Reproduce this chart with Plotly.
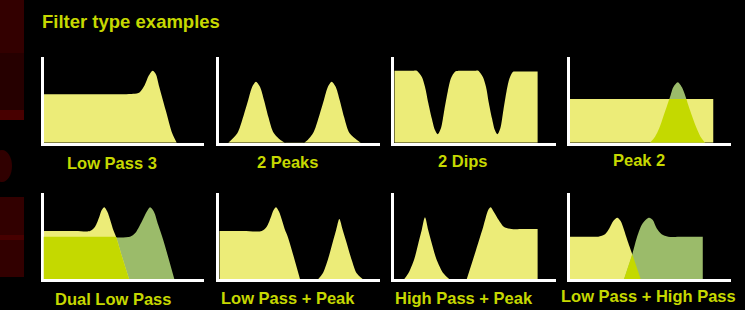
import plotly.graph_objects as go

W, H = 745, 310

# ---------------- data (x: 0-100 across each panel, y: 0-100 up the axis) ----------------
title_text = "Filter type examples"
labels = ["Low Pass 3", "2 Peaks", "2 Dips", "Peak 2",
          "Dual Low Pass", "Low Pass + Peak", "High Pass + Peak", "Low Pass + High Pass"]

lp3_x = [0, 25, 50, 56, 60, 63, 65.5, 68, 70, 72.1, 76.1, 80.2, 83]
lp3_y = [56.5, 56.5, 56.5, 57, 59, 67, 78, 84, 80, 65.3, 38.2, 11, 0]

peaks2_x = [5.6, 11.2, 14.9, 18, 20.5, 22.8, 25.3, 27.8, 30.5, 34, 40.9,
            52.7, 58.3, 62, 65.1, 67.6, 69.9, 72.4, 74.9, 77.6, 81.1, 88]
peaks2_y = [0, 11, 30.3, 49.8, 65.3, 71.2, 65.3, 49.8, 30.3, 11, 0,
            0, 11, 30.3, 49.8, 65.3, 71.2, 65.3, 49.8, 30.3, 11, 0]

dips2_x = [0, 4, 8, 12, 13.9, 17, 19, 21.1, 23.2, 25.2, 26.9, 28.9, 31, 33.1, 35.1, 37.6, 39.7,
           43, 47, 50.5, 52, 54.8, 56.8, 58.6, 60.5, 62.3, 63.9, 65.7, 67.6, 69.5, 71.4, 73.6,
           75.8, 79, 83, 86, 88.8]
dips2_y = [84, 84, 84, 84, 84, 77, 65.3, 46, 28.5, 14.8, 9.8, 16.8, 38.2, 59.5, 75.1, 82.8, 84,
           84, 84, 84, 84, 77, 65.3, 46, 28.5, 14.8, 9.8, 16.8, 38.2, 59.5, 75.1, 82.8,
           83, 83, 83, 83, 83]

peak2_rect_x = [0, 89]
peak2_rect_y = [51, 51]
peak2_bell_x = [49.8, 52.9, 55.5, 58, 60.5, 62.6, 64.2, 67, 69.6, 71.5, 73.5, 76, 78.7, 81.1, 83.9]
peak2_bell_y = [0, 7, 16.8, 30.3, 44, 55.7, 64.6, 70.5, 64.6, 55.7, 44, 30.3, 16.8, 7, 0]

dual_a_x = [0, 20, 29, 32.1, 34.8, 36.3, 37.9, 39.8, 41.9, 43.5, 45.2, 49.2, 53.3]
dual_a_y = [56, 56, 56, 61, 72.7, 80.5, 83.7, 78.5, 66.9, 57.2, 49.4, 24.5, 0]
dual_b_x = [0, 30, 53.9, 57, 61.2, 64.3, 66.4, 68.8, 71.5, 74.6, 81.5]
dual_b_y = [49.4, 49.4, 49.4, 53.3, 66.9, 78.5, 83.7, 78.5, 63, 45.5, 0]

lpp_lp_x = [0, 15, 26.4, 29.5, 32.2, 33.8, 35.3, 37.2, 39.3, 40.9, 42.6, 50.2]
lpp_lp_y = [56, 56, 56, 61, 72.7, 80.5, 83.7, 78.5, 66.9, 57.2, 49.4, 0]
lpp_pk_x = [61.6, 64.4, 67.5, 70.4, 72.7, 74.7, 76.8, 79.3, 82.4, 85.5, 89.2]
lpp_pk_y = [0, 6.6, 22.2, 41.7, 57.2, 70, 57.2, 41.7, 22.2, 6.6, 0]

hpp_pk_x = [6.2, 8.7, 12.2, 14.9, 17, 19, 21, 23.2, 26.3, 30.4, 34]
hpp_pk_y = [0, 6.6, 22.2, 41.7, 57.2, 72, 57.2, 41.7, 22.2, 6.6, 0]
hpp_hp_x = [44.9, 50, 55.1, 58.2, 59.7, 61.6, 64.7, 67.8, 72.7, 80, 88.8]
hpp_hp_y = [0, 30, 61, 80.5, 83.7, 78.5, 68.8, 61, 58.3, 58.3, 58.3]

lphp_lp_x = [0, 10, 17.7, 21.9, 24.6, 27, 29.5, 31.6, 33.7, 35.7, 38.8, 44]
lphp_lp_y = [49.4, 49.4, 49.4, 52.2, 59.2, 67.7, 71.5, 67.7, 57.2, 45.5, 28.8, 0]
lphp_hp_x = [33.7, 38.8, 41.5, 44.6, 47.7, 49.3, 51.5, 53.9, 57, 61.1, 70, 82.5]
lphp_hp_y = [0, 28.8, 47.5, 63, 70, 71.5, 68.8, 59.2, 52.2, 49.4, 49.4, 49.4]
lphp_ov_x = [33.7, 38.8, 44]
lphp_ov_y = [0, 28.8, 0]

# ---------------- styling ----------------
YEL = "#ECEC78"
GRN = "#9BBB6A"
LIME = "#C4D900"
TXT = "#C6D800"
FONT = "Liberation Sans, Arial, sans-serif"

# panel geometry in pixels
cols = [(43.5, 204.0), (219.3, 380.0), (394.3, 555.7), (569.7, 731.0)]
rows = [(57.0, 142.7), (193.3, 279.0)]

def px2x(p):
    return p / W

def py2y(p):
    return 1 - p / H

fig = go.Figure()
layout = dict(width=W, height=H, margin=dict(l=0, r=0, t=0, b=0),
              paper_bgcolor="black", plot_bgcolor="rgba(0,0,0,0)", showlegend=False)

for i in range(8):
    r, c = divmod(i, 4)
    x0, x1 = cols[c]
    top, bot = rows[r]
    n = i + 1
    layout[f"xaxis{n}"] = dict(domain=[px2x(x0), px2x(x1)], range=[0, 100], anchor=f"y{n}",
                               showline=True, linecolor="white", linewidth=2.5,
                               showgrid=False, zeroline=False, showticklabels=False,
                               ticks="", fixedrange=True)
    layout[f"yaxis{n}"] = dict(domain=[py2y(bot), py2y(top)], range=[0, 100], anchor=f"x{n}",
                               showline=True, linecolor="white", linewidth=2.5,
                               showgrid=False, zeroline=False, showticklabels=False,
                               ticks="", fixedrange=True)

# clip axes: lime overlap regions clipped to the level of the other filter
def clip_axis(row, level):
    top, bot = rows[row]
    h = bot - top
    return dict(domain=[py2y(bot), py2y(bot - h * level / 100.0)], range=[0, level],
                visible=False, fixedrange=True)

layout["yaxis9"] = dict(clip_axis(0, peak2_rect_y[0]), anchor="x4")
layout["yaxis10"] = dict(clip_axis(1, dual_b_y[0]), anchor="x5")

def area(x, y, color, xa, ya):
    fig.add_trace(go.Scatter(x=x, y=y, mode="lines", fill="tozeroy", fillcolor=color,
                             line=dict(width=0, shape="spline", smoothing=0.8, color=color),
                             xaxis=xa, yaxis=ya, hoverinfo="skip"))

def poly(x, y, color, xa, ya):
    fig.add_trace(go.Scatter(x=x, y=y, mode="lines", fill="tozeroy", fillcolor=color,
                             line=dict(width=0, color=color),
                             xaxis=xa, yaxis=ya, hoverinfo="skip"))

area(lp3_x, lp3_y, YEL, "x1", "y1")
area(peaks2_x, peaks2_y, YEL, "x2", "y2")
area(dips2_x, dips2_y, YEL, "x3", "y3")

area(peak2_bell_x, peak2_bell_y, GRN, "x4", "y4")
poly(peak2_rect_x, peak2_rect_y, YEL, "x4", "y4")
area(peak2_bell_x, peak2_bell_y, LIME, "x4", "y9")

area(dual_b_x, dual_b_y, GRN, "x5", "y5")
area(dual_a_x, dual_a_y, YEL, "x5", "y5")
area(dual_a_x, dual_a_y, LIME, "x5", "y10")

area(lpp_lp_x, lpp_lp_y, YEL, "x6", "y6")
area(lpp_pk_x, lpp_pk_y, YEL, "x6", "y6")

area(hpp_pk_x, hpp_pk_y, YEL, "x7", "y7")
area(hpp_hp_x, hpp_hp_y, YEL, "x7", "y7")

area(lphp_lp_x, lphp_lp_y, YEL, "x8", "y8")
area(lphp_hp_x, lphp_hp_y, GRN, "x8", "y8")
poly(lphp_ov_x, lphp_ov_y, LIME, "x8", "y8")

# labels
label_pos = [(111.7, 163), (287.5, 162), (463.3, 161), (639, 160),
             (113.3, 299), (288.3, 298), (464.2, 298), (648.3, 296)]
ann = [dict(text=f"<b>{title_text}</b>", x=px2x(40), y=py2y(21.7), xref="paper", yref="paper",
            xanchor="left", yanchor="middle", showarrow=False,
            font=dict(family=FONT, size=18.5, color=TXT))]
for t, (lx, ly) in zip(labels, label_pos):
    ann.append(dict(text=f"<b>{t}</b>", x=px2x(lx), y=py2y(ly), xref="paper", yref="paper",
                    xanchor="center", yanchor="middle", showarrow=False,
                    font=dict(family=FONT, size=16.5, color=TXT)))
layout["annotations"] = ann

# decorative dark-red strip on the left edge
strip = [(0, 53, "#330000"), (53, 110, "#260000"), (110, 120, "#480000"),
         (197, 277, "#320000"), (235, 240, "#470000")]
shapes = []
for y0, y1, col in strip:
    shapes.append(dict(type="rect", xref="paper", yref="paper", x0=0, x1=px2x(24),
                       y0=py2y(y1), y1=py2y(y0), fillcolor=col, line=dict(width=0), layer="below"))
shapes.append(dict(type="circle", xref="paper", yref="paper", x0=px2x(-8), x1=px2x(12),
                   y0=py2y(182), y1=py2y(150), fillcolor="#300000", line=dict(width=0), layer="below"))
layout["shapes"] = shapes

fig.update_layout(**layout)
fig.write_html("out.html", config=dict(displayModeBar=False),
               post_script="document.body.style.margin='0';document.body.style.overflow='hidden';")
